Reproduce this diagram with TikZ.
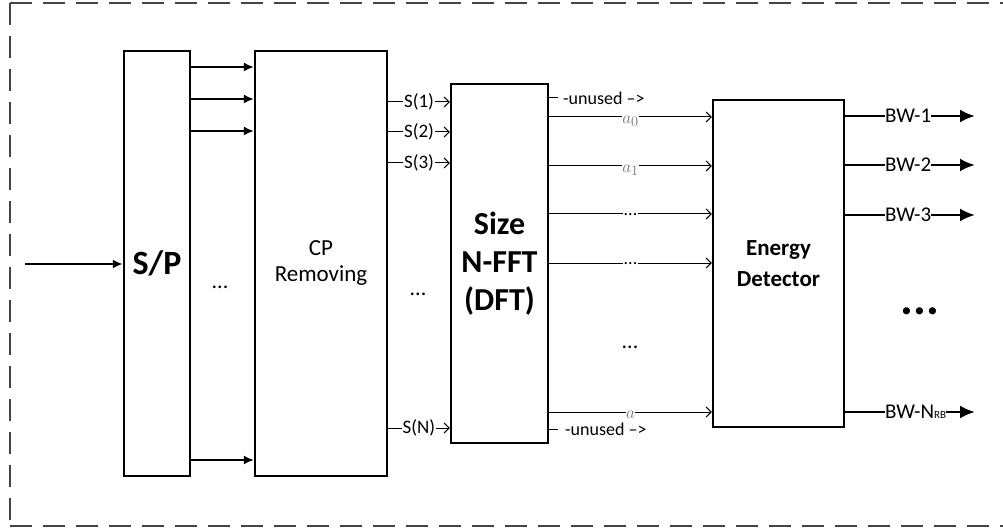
\documentclass[tikz,border=0pt]{standalone}
\usepackage{fontspec}
\setmainfont{Carlito}
\usetikzlibrary{arrows.meta}
\definecolor{frame}{HTML}{444444}
\definecolor{alabc}{HTML}{777777}
\begin{document}
\begin{tikzpicture}[x=1pt,y=-1pt,
  blk/.style={draw, line width=2.5pt, inner sep=0pt, align=center},
  fatarr/.style={line width=1.5pt, -{Latex[length=10pt,width=9pt]}},
  inarr/.style={line width=2pt, -{Latex[length=10pt,width=9pt]}},
  thinarr/.style={line width=1pt, -{Straight Barb[length=5pt,width=10pt]}},
  outln/.style={line width=2.5pt},
  outarr/.style={line width=2.5pt, -{Latex[length=15pt,width=13pt]}},
  slab/.style={fill=white, inner sep=1pt, font=\fontsize{19}{22}\selectfont},
  alab/.style={fill=white, inner sep=0.5pt, anchor=north, yshift=2pt, text=alabc, font=\fontsize{19}{21}\selectfont},
  bwlab/.style={inner sep=0pt, anchor=west, font=\fontsize{21}{24}\selectfont},
  ulab/.style={inner sep=0pt, anchor=west, font=\fontsize{18}{20}\selectfont},
  dots/.style={inner sep=0pt, anchor=base, font=\fontsize{22}{24}\selectfont},
  border/.style={draw=frame, line width=1.5pt, dash pattern=on 22pt off 11pt}
]
\useasboundingbox (0,0) rectangle (1003,529);
\draw[border] (10,3) -- (1020,3);
\draw[border] (10,526) -- (1020,526);
\draw[border] (10,3) -- (10,526);

% blocks
\node[blk, minimum width=66pt, minimum height=425pt, font=\fontsize{34}{40}\selectfont\bfseries] (sp) at (157,263.5) {S/P};
\node[blk, minimum width=132pt, minimum height=425pt, font=\fontsize{23}{26}\selectfont] (cp) at (321,263.5) {CP\\Removing};
\node[blk, minimum width=97pt, minimum height=359pt, font=\fontsize{32}{38}\selectfont\bfseries] (dft) at (499.5,263.5) {Size\\N-FFT\\(DFT)};
\node[blk, minimum width=131pt, minimum height=327pt, font=\fontsize{23}{31}\selectfont\bfseries] (ed) at (778.5,263.5) {Energy\\Detector};

% input
\coordinate (in) at (25,264);
\draw[inarr] (in) -- (sp.west |- in);

% S/P -> CP
\foreach \y in {67,99,131,460} {
  \coordinate (t) at (0,\y);
  \draw[fatarr] (sp.east |- t) -- (cp.west |- t);
}
\node[dots] (d1) at (220,288) {...};

% CP -> DFT
\coordinate (s1) at (0,102);
\coordinate (s2) at (0,132);
\coordinate (s3) at (0,163);
\coordinate (sn) at (0,428);
\draw[thinarr] (cp.east |- s1) -- node[slab] {S(1)} (dft.west |- s1);
\draw[thinarr] (cp.east |- s2) -- node[slab] {S(2)} (dft.west |- s2);
\draw[thinarr] (cp.east |- s3) -- node[slab] {S(3)} (dft.west |- s3);
\draw[thinarr] (cp.east |- sn) -- node[slab] {S(N)} (dft.west |- sn);
\node[dots] (d2) at (418,295) {...};

% DFT -> ED
\node[ulab] (u1) at (563,98) {-unused -->};
\draw[line width=1pt] (dft.east |- u1) -- ++(9,0);
\node[ulab] (u2) at (565,429) {-unused -->};
\draw[line width=1pt] (dft.east |- u2) -- ++(9,0);

\coordinate (a0) at (0,117);
\coordinate (a1) at (0,166);
\coordinate (a2) at (0,214);
\coordinate (a3) at (0,263);
\coordinate (an) at (0,412);
\draw[thinarr] (dft.east |- a0) -- node[alab] {$a_0$} (ed.west |- a0);
\draw[thinarr] (dft.east |- a1) -- node[alab] {$a_1$} (ed.west |- a1);
\draw[thinarr] (dft.east |- a2) -- node[alab, text=black, font=\fontsize{18}{20}\selectfont] {...} (ed.west |- a2);
\draw[thinarr] (dft.east |- a3) -- node[alab, text=black, font=\fontsize{18}{20}\selectfont] {...} (ed.west |- a3);
\draw[thinarr] (dft.east |- an) -- node[alab] {$a$} (ed.west |- an);
\node[dots] (d3) at (630,348) {...};

% ED outputs
\foreach \y/\n/\t in {116/b1/{BW-1},165/b2/{BW-2},215/b3/{BW-3},412/bn/{BW-N{\fontsize{11}{12}\selectfont RB}}} {
  \coordinate (t) at (885,\y);
  \node[bwlab] (\n) at (t) {\t};
  \draw[outln] (ed.east |- t) -- (\n.west);
  \coordinate (\n e) at (975,\y);
  \draw[outarr] (\n.east) -- (\n e);
}
\node[dots, font=\fontsize{48}{50}\selectfont\bfseries] (d4) at (920,314) {...};
\end{tikzpicture}
\end{document}
